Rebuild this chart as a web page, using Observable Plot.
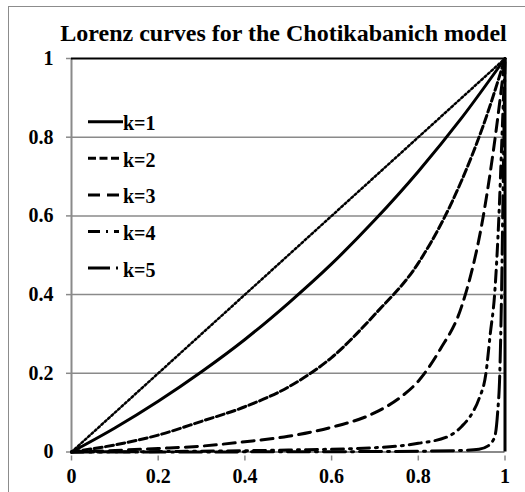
<!DOCTYPE html>
<html>
<head>
<meta charset="utf-8">
<script src="https://cdn.jsdelivr.net/npm/d3@7"></script>
<script src="https://cdn.jsdelivr.net/npm/@observablehq/plot@0.6"></script>
<style>
  html, body { margin: 0; padding: 0; background: #fff; overflow: hidden; }
  #wrap { position: relative; width: 525px; height: 492px; overflow: hidden; font-family: "Liberation Serif", "Times New Roman", serif; }
  #frame { position: absolute; left: 8px; top: 6px; width: 700px; height: 700px; border: 1.5px solid #8c8c8c; box-sizing: border-box; }
  #title { position: absolute; left: 0; width: 567px; top: 21px; text-align: center; font-size: 24px; line-height: 24px; font-weight: bold; color: #000; white-space: nowrap; }
  #chart, #legend { position: absolute; left: 0; top: 0; }
  #chart svg text, #legend text { font-family: "Liberation Serif", "Times New Roman", serif !important; font-weight: bold; }
</style>
</head>
<body>
<div id="wrap">
  <div id="frame"></div>
  <div id="chart"></div>
  <svg id="legend" width="525" height="492"></svg>
  <div id="title">Lorenz curves for the Chotikabanich model</div>
</div>
<script>
// ---- data ----
const titleText = "Lorenz curves for the Chotikabanich model";
const xTicks = [0, 0.2, 0.4, 0.6, 0.8, 1];
const xTickLabels = ["0", "0.2", "0.4", "0.6", "0.8", "1"];
const yTicks = [0, 0.2, 0.4, 0.6, 0.8, 1];
const yTickLabels = ["0", "0.2", "0.4", "0.6", "0.8", "1"];
const gridValues = [0.2, 0.4, 0.6, 0.8];

const seriesNames = ["k=1", "k=2", "k=3", "k=4", "k=5"];

const equalityP = [0, 1];
const equalityL = [0, 1];

const k1P = [0, 0.1, 0.2, 0.3, 0.4, 0.5, 0.6, 0.7, 0.8, 0.9, 1];
const k1L = [0, 0.061, 0.129, 0.204, 0.286, 0.378, 0.478, 0.590, 0.713, 0.849, 1];

const k2P = [0, 0.1, 0.2, 0.3, 0.4, 0.5, 0.6, 0.7, 0.8, 0.9, 0.95, 1];
const k2L = [0, 0.018, 0.043, 0.078, 0.115, 0.165, 0.24, 0.35, 0.48, 0.69, 0.83, 1];

const k3P = [0, 0.1, 0.2, 0.3, 0.4, 0.5, 0.6, 0.7, 0.76, 0.8, 0.85, 0.9, 0.95, 0.975, 1];
const k3L = [0, 0.004, 0.009, 0.015, 0.026, 0.04, 0.063, 0.10, 0.14, 0.18, 0.26, 0.37, 0.60, 0.78, 1];

const k4P = [0, 0.3, 0.5, 0.7, 0.8, 0.87, 0.9, 0.925, 0.94, 0.956, 0.966, 0.976, 0.986, 0.993, 1];
const k4L = [0, 0.002, 0.005, 0.011, 0.022, 0.04, 0.065, 0.10, 0.135, 0.2, 0.3, 0.4, 0.6, 0.8, 1];

const k5P = [0, 0.5, 0.8, 0.9, 0.94, 0.96, 0.97, 0.978, 0.983, 0.988, 0.992, 0.996, 1];
const k5L = [0, 0.0005, 0.002, 0.004, 0.007, 0.015, 0.025, 0.047, 0.1, 0.2, 0.4, 0.7, 1];

// ---- styles ----
const dashStyles = ["none", "8,3.5", "12,7", "12,6,2,6", "22,6,2,6"];
const serif = "Liberation Serif";

// ---- build tables ----
const seriesP = [k1P, k2P, k3P, k4P, k5P];
const seriesL = [k1L, k2L, k3L, k4L, k5L];
const series = seriesNames.map((name, i) => ({
  name, dash: dashStyles[i],
  rows: seriesP[i].map((p, j) => ({p, L: seriesL[i][j]}))
}));
const equality = equalityP.map((p, j) => ({p, L: equalityL[j]}));

const W = 525, H = 492;
const plot = Plot.plot({
  width: W, height: H,
  marginLeft: 71, marginRight: 20.5, marginTop: 58, marginBottom: 40.5,
  style: {fontFamily: serif, fontSize: "20px", fontWeight: "bold", background: "transparent", color: "#000", overflow: "visible"},
  x: {domain: [0, 1]},
  y: {domain: [0, 1]},
  marks: [
    Plot.ruleY(gridValues, {stroke: "#8a8a8a", strokeWidth: 1.5}),
    Plot.ruleX([0], {stroke: "#8a8a8a", strokeWidth: 2}),
    Plot.ruleY([0], {stroke: "#8a8a8a", strokeWidth: 2}),
    Plot.axisX({ticks: xTicks, tickFormat: (d) => xTickLabels[xTicks.indexOf(d)], tickSize: 5, tickPadding: 8, dy: 4, stroke: "#8a8a8a", strokeWidth: 1.5, fill: "#000", fontFamily: serif, fontSize: 20, fontWeight: "bold", label: null}),
    Plot.axisY({ticks: yTicks, tickFormat: (d) => yTickLabels[yTicks.indexOf(d)], tickSize: 5, tickPadding: 13, stroke: "#8a8a8a", strokeWidth: 1.5, fill: "#000", fontFamily: serif, fontSize: 20, fontWeight: "bold", label: null}),
    Plot.line(equality, {x: "p", y: "L", stroke: "#000", strokeWidth: 2.5, strokeDasharray: "2,2.5"}),
    ...series.map(s => Plot.line(s.rows, {x: "p", y: "L", stroke: "#000", strokeWidth: 3, strokeDasharray: s.dash, curve: "monotone-x"})),
    Plot.ruleY([1], {stroke: "#000", strokeWidth: 2}),
    Plot.ruleX([1], {stroke: "#000", strokeWidth: 3})
  ]
});
document.getElementById("chart").appendChild(plot);
document.getElementById("title").textContent = titleText;

// ---- legend ----
const leg = d3.select("#legend");
const legX0 = 88, legX1 = 118, legY0 = 121.7, legStep = 36.6;
series.forEach((s, i) => {
  const y = legY0 + i * legStep;
  leg.append("line")
    .attr("x1", legX0).attr("x2", i === 0 ? 123 : legX1 + 1)
    .attr("y1", y).attr("y2", y)
    .attr("stroke", "#000").attr("stroke-width", 3)
    .attr("stroke-dasharray", s.dash);
  leg.append("text")
    .attr("x", 123).attr("y", y + 8.5)
    .attr("font-family", serif)
    .attr("font-size", 20).attr("font-weight", "bold")
    .text(s.name);
});
</script>
</body>
</html>
